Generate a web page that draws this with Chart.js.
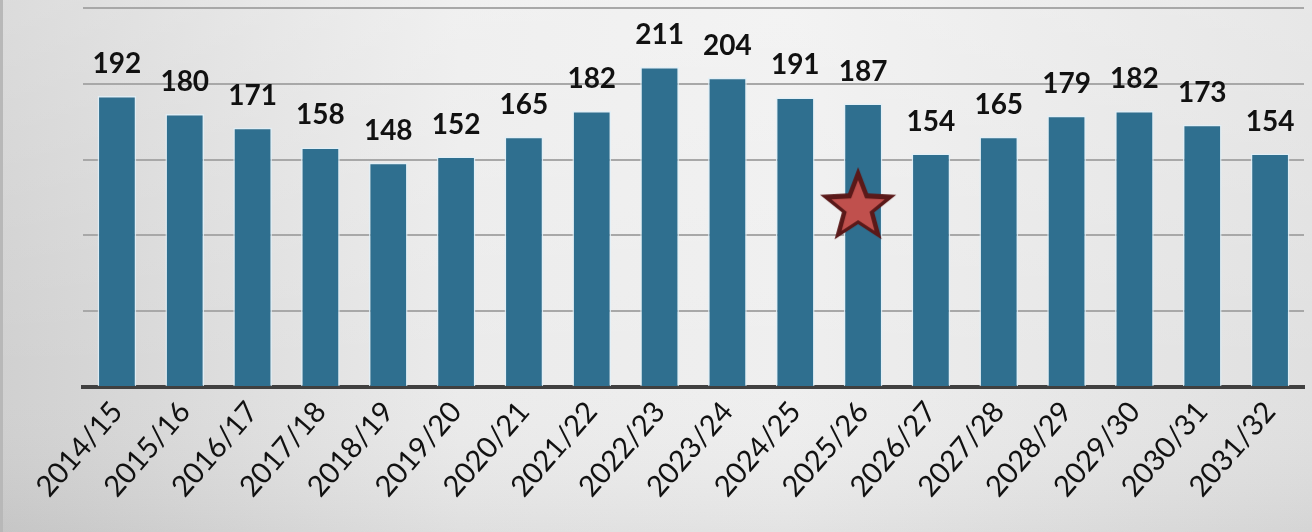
<!DOCTYPE html>
<html><head><meta charset="utf-8">
<script src="https://cdn.jsdelivr.net/npm/chart.js@4/dist/chart.umd.min.js"></script>
<style>html,body{margin:0;padding:0;background:#e6e6e6;}#wrap{width:1312px;height:532px;position:relative;}</style>
</head><body><div id="wrap"><canvas id="c" width="1312" height="532"></canvas></div>
<script>
const categories = ["2014/15","2015/16","2016/17","2017/18","2018/19","2019/20","2020/21","2021/22","2022/23","2023/24","2024/25","2025/26","2026/27","2027/28","2028/29","2029/30","2030/31","2031/32"];
const values = [192,180,171,158,148,152,165,182,211,204,191,187,154,165,179,182,173,154];
const markerIndex = 11;
const markerValue = 120;
const yTicks = [0,50,100,150,200,250];

const markerData = categories.map((c,i)=> i===markerIndex ? markerValue : null);

function makeStar(){
  const s = 86, cv = document.createElement('canvas');
  cv.width = s; cv.height = s;
  const g = cv.getContext('2d');
  const cx = s/2 - 5, cy = s/2 + 2;
  function star(R, r, dy, col){
    g.beginPath();
    for(let k=0;k<10;k++){
      const ang = -Math.PI/2 + k*Math.PI/5;
      const rad = k%2===0 ? R : r;
      const x = cx + rad*Math.cos(ang), y = cy + dy + rad*Math.sin(ang);
      k===0 ? g.moveTo(x,y) : g.lineTo(x,y);
    }
    g.closePath();
    g.fillStyle = col; g.fill();
  }
  star(40, 17, 0, '#5a1919');
  star(28, 12, 1, '#c0504d');
  return cv;
}

const bgPlugin = {
  id:'bg',
  beforeDraw(chart){
    const ctx = chart.ctx, w = chart.width, h = chart.height;
    ctx.save();
    const g = ctx.createLinearGradient(0,0,w,0);
    g.addColorStop(0,'#d0d0d0');
    g.addColorStop(0.35,'#ebebeb');
    g.addColorStop(0.6,'#efefef');
    g.addColorStop(1,'#e0e0e0');
    ctx.fillStyle = g; ctx.fillRect(0,0,w,h);
    const g2 = ctx.createLinearGradient(0,0,0,h);
    g2.addColorStop(0,'rgba(255,255,255,0.25)');
    g2.addColorStop(0.7,'rgba(255,255,255,0)');
    g2.addColorStop(1,'rgba(0,0,0,0.05)');
    ctx.fillStyle = g2; ctx.fillRect(0,0,w,h);
    ctx.fillStyle = '#b8b8b8'; ctx.fillRect(0,0,3,h);
    ctx.restore();
  }
};

const labelPlugin = {
  id:'vals',
  afterDatasetsDraw(chart){
    const ctx = chart.ctx;
    const meta = chart.getDatasetMeta(1);
    ctx.save();
    ctx.font = 'bold 28px Lato';
    ctx.fillStyle = '#111';
    ctx.textAlign = 'center';
    ctx.textBaseline = 'alphabetic';
    meta.data.forEach((bar,i)=>{
      ctx.fillText(String(values[i]), bar.x, bar.y - 23);
    });
    ctx.restore();
  }
};

new Chart(document.getElementById('c'), {
  data:{
    labels: categories,
    datasets:[
      {type:'line', data: markerData, showLine:false, pointStyle: makeStar(), pointRadius:43, pointHoverRadius:43, order:0, clip:false},
      {type:'bar', data: values, backgroundColor:'#2f6f8f', borderColor:'rgba(225,240,248,0.85)', borderWidth:1.5, borderSkipped:'bottom', categoryPercentage:1, barPercentage:0.57, order:1}
    ]
  },
  options:{
    responsive:false, animation:false,
    devicePixelRatio:1,
    layout:{autoPadding:false, padding:{left:83,right:8,top:8,bottom:0}},
    plugins:{legend:{display:false}, tooltip:{enabled:false}},
    scales:{
      x:{
        grid:{display:false, drawTicks:false},
        border:{display:true, color:'#404040', width:4},
        ticks:{color:'#111', font:{family:'Lato', size:29}, minRotation:49, maxRotation:49, padding:8, autoSkip:false},
        afterFit(s){ s.height = 145; s.paddingLeft = 0; s.paddingRight = 0; }
      },
      y:{
        min:0, max:250,
        afterBuildTicks(s){ s.ticks = yTicks.map(v=>({value:v})); },
        grid:{color:'#a8a8a8', lineWidth:2, drawTicks:false},
        border:{display:false},
        ticks:{display:false},
        afterFit(s){ s.width = 0; s.paddingTop = 0; s.paddingBottom = 0; }
      }
    }
  },
  plugins:[bgPlugin, labelPlugin]
});
</script></body></html>
